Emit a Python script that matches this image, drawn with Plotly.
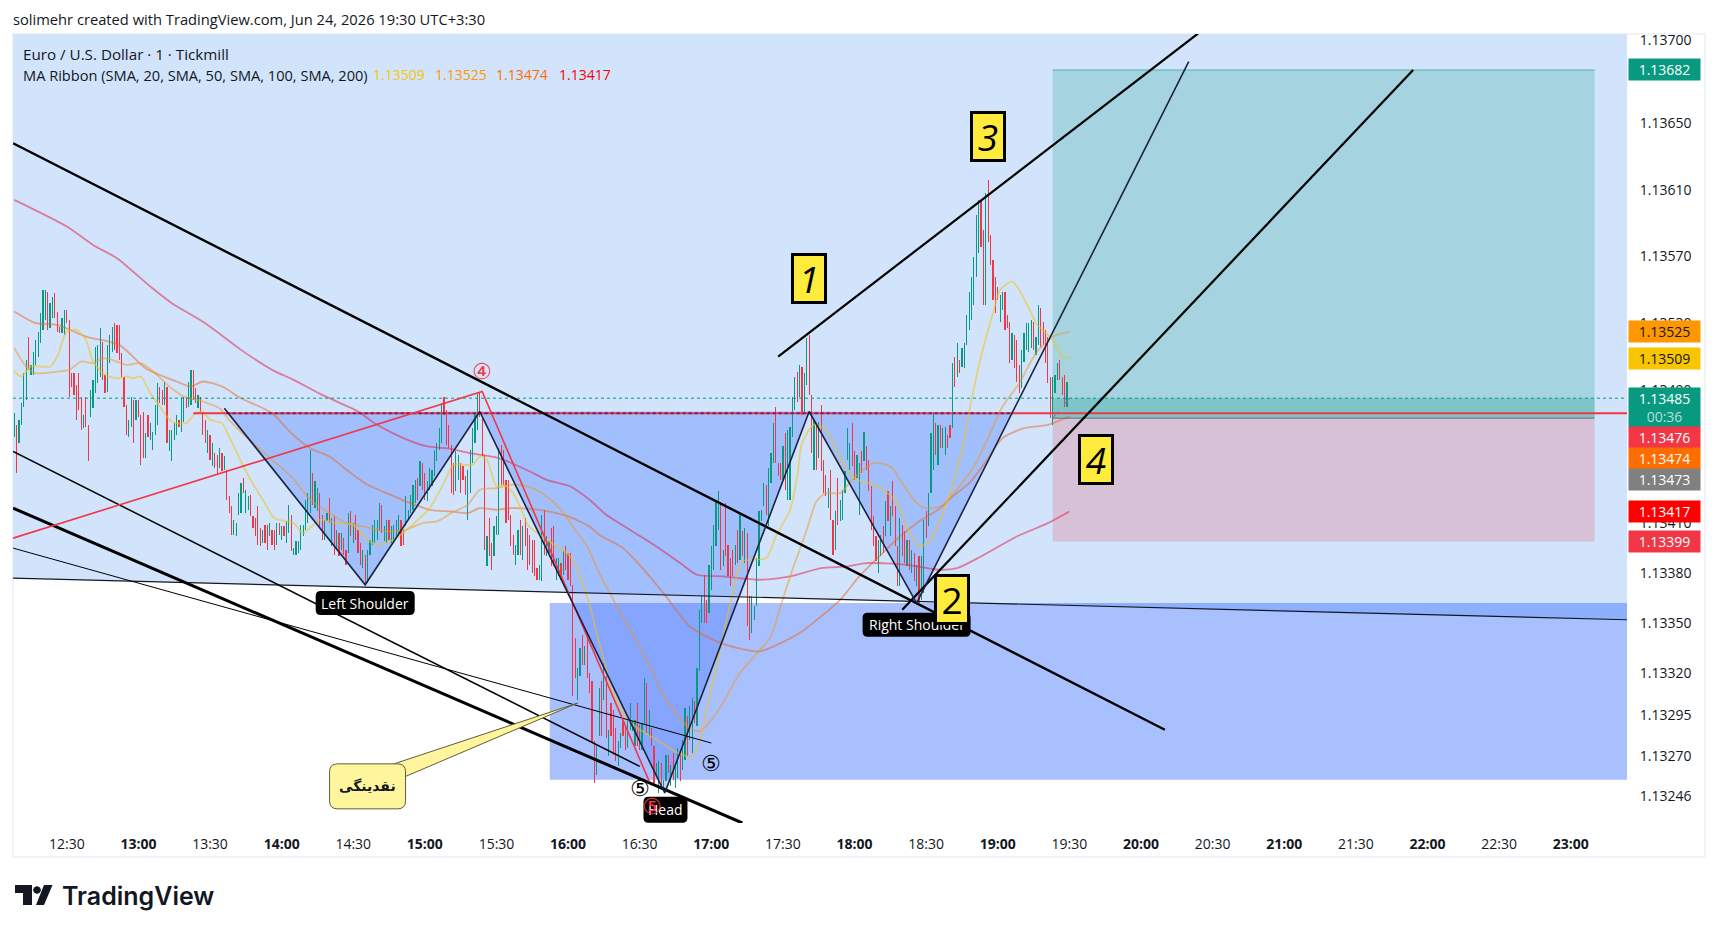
import pandas as pd
import plotly.graph_objects as go

DAY = "2026-06-24 "

# one minute bars, price in 1e-5 units, first bar is 12:08
bar_high = [
    113476,113469,113472,113482,113500,113508,113522,113505,113513,113520,
    113525,113536,113550,113550,113549,113542,113546,113548,113537,113528,
    113533,113538,113538,113532,113500,113500,113493,113500,113486,113475,
    113486,113469,113490,113496,113516,113517,113527,113519,113499,113517,
    113523,113528,113530,113529,113529,113512,113498,113481,113472,113486,
    113484,113484,113484,113475,113477,113464,113475,113470,113465,113481,
    113494,113492,113490,113495,113492,113466,113466,113470,113475,113472,
    113486,113486,113486,113495,113502,113502,113491,113487,113486,113477,
    113472,113466,113463,113458,113452,113451,113455,113452,113450,113442,
    113426,113420,113412,113410,113428,113434,113437,113430,113426,113427,
    113414,113413,113420,113407,113406,113409,113409,113410,113406,113406,
    113410,113410,113408,113408,113411,113421,113415,113395,113399,113399,
    113409,113409,113424,113428,113454,113440,113435,113431,113428,113415,
    113412,113416,113425,113413,113414,113406,113404,113404,113401,113394,
    113416,113417,113410,113415,113406,113398,113394,113391,113394,113400,
    113409,113412,113412,113422,113421,113408,113412,113412,113408,113409,
    113412,113415,113412,113406,113426,113418,113427,113433,113436,113437,
    113447,113446,113440,113435,113443,113442,113454,113458,113467,113482,
    113486,113478,113469,113457,113446,113453,113451,113446,113444,113438,
    113442,113454,113467,113476,113489,113489,113474,113451,113402,113413,
    113398,113408,113414,113455,113457,113454,113436,113436,113415,113403,
    113397,113406,113412,113408,113413,113407,113403,113400,113400,113383,
    113385,113415,113418,113402,113399,113407,113408,113389,113389,113386,
    113393,113396,113392,113392,113373,113341,113323,113335,113343,113336,
    113343,113320,113315,113279,113276,113311,113315,113326,113318,113286,
    113302,113298,113287,113279,113284,113291,113289,113292,113302,113291,
    113292,113302,113289,113290,113317,113314,113298,113287,113276,113266,
    113267,113266,113256,113271,113271,113265,113272,113265,113275,113274,
    113280,113299,113294,113300,113305,113303,113323,113358,113366,113379,
    113364,113385,113396,113409,113424,113429,113422,113394,113422,113397,
    113389,113394,113397,113406,113416,113405,113407,113404,113366,113366,
    113360,113389,113417,113418,113434,113433,113443,113452,113470,113480,
    113446,113446,113456,113464,113466,113468,113486,113498,113501,113505,
    113504,113500,113521,113523,113487,113472,113469,113471,113481,113448,
    113439,113431,113442,113412,113417,113437,113424,113430,113441,113467,
    113458,113470,113453,113451,113446,113453,113465,113456,113448,113432,
    113414,113402,113400,113403,113408,113423,113429,113420,113435,113420,
    113396,113413,113409,113405,113400,113400,113394,113392,113385,113390,
    113390,113412,113417,113428,113464,113477,113470,113469,113469,113467,
    113468,113463,113469,113506,113510,113518,113508,113515,113518,113535,
    113549,113558,113570,113595,113604,113604,113586,113608,113616,113583,
    113568,113558,113552,113547,113549,113549,113535,113531,113524,113523,
    113520,113505,113514,113524,113530,113530,113532,113531,113522,113541,
    113539,113531,113526,113522,113498,113498,113499,113506,113508,113498,
    113499,113495,
]
bar_low = [
    113462,113440,113458,113469,113480,113484,113502,113499,113499,113505,
    113510,113518,113526,113532,113526,113527,113533,113533,113525,113524,
    113524,113523,113530,113486,113492,113487,113472,113478,113466,113467,
    113468,113447,113474,113479,113488,113494,113498,113496,113488,113489,
    113506,113513,113514,113512,113508,113498,113480,113463,113462,113468,
    113458,113472,113474,113445,113449,113449,113462,113460,113454,113463,
    113469,113482,113481,113481,113458,113453,113447,113460,113463,113468,
    113465,113471,113479,113480,113481,113484,113482,113479,113477,113463,
    113458,113452,113448,113444,113443,113440,113443,113441,113442,113424,
    113416,113403,113403,113402,113415,113416,113428,113416,113418,113414,
    113407,113402,113397,113396,113398,113398,113394,113402,113397,113394,
    113397,113403,113400,113402,113398,113404,113393,113391,113391,113392,
    113394,113402,113406,113410,113416,113421,113419,113417,113408,113400,
    113400,113411,113410,113396,113391,113394,113390,113394,113391,113385,
    113392,113402,113398,113400,113392,113385,113383,113373,113374,113391,
    113397,113398,113400,113405,113404,113399,113398,113400,113398,113399,
    113402,113402,113396,113397,113408,113412,113416,113418,113422,113424,
    113432,113430,113424,113423,113430,113432,113438,113447,113454,113458,
    113475,113457,113455,113428,113427,113429,113436,113428,113436,113427,
    113412,113428,113446,113458,113466,113474,113450,113394,113384,113390,
    113382,113390,113403,113403,113433,113433,113410,113412,113396,113391,
    113385,113391,113391,113388,113396,113382,113385,113380,113378,113376,
    113376,113375,113391,113390,113392,113384,113384,113376,113378,113376,
    113379,113382,113376,113372,113306,113317,113304,113318,113325,113325,
    113317,113308,113278,113254,113259,113282,113282,113304,113281,113270,
    113282,113271,113267,113264,113275,113282,113274,113275,113286,113285,
    113276,113276,113274,113274,113289,113284,113282,113276,113254,113258,
    113248,113250,113249,113255,113260,113252,113256,113251,113257,113255,
    113262,113268,113270,113280,113272,113290,113288,113321,113350,113350,
    113350,113356,113370,113382,113396,113406,113382,113384,113390,113378,
    113372,113378,113385,113386,113388,113390,113386,113348,113340,113344,
    113352,113360,113384,113411,113420,113415,113408,113434,113446,113446,
    113438,113436,113436,113430,113424,113424,113462,113478,113483,113486,
    113475,113477,113493,113487,113452,113442,113442,113449,113441,113428,
    113426,113419,113412,113391,113394,113409,113411,113412,113428,113448,
    113442,113444,113436,113437,113415,113440,113447,113442,113429,113406,
    113396,113387,113380,113390,113392,113402,113411,113402,113414,113396,
    113372,113372,113390,113386,113384,113382,113380,113375,113372,113362,
    113364,113368,113401,113408,113428,113442,113451,113445,113455,113455,
    113451,113455,113461,113467,113492,113498,113500,113504,113503,113517,
    113526,113532,113541,113558,113572,113576,113541,113541,113579,113565,
    113544,113536,113544,113531,113538,113526,113527,113506,113508,113503,
    113495,113488,113491,113507,113514,113513,113515,113514,113511,113517,
    113516,113517,113506,113494,113473,113469,113488,113496,113496,113487,
    113480,113480,
]
# u = green bar, d = red bar
bar_dir = (
    "uduuuuduuu" "uuuuduuddd" "uudddddddu" "dduuuuuddu" "uudddddduu"
    "duddduduuu" "udduduuuud" "uuduuddudd" "dududdudud" "dduuuuduud"
    "ddddudd" "udd" "ududuuduuu" "uuuuuduudd" "uududududd" "ududddu" "duu"
    "uuuuduuduu" "uudduuuuud" "udduuuuuuu" "ddddduuddd" "uuuuudddud"
    "duuudddddd" "uududddddd" "uuduudduud" "uddddduudu" "dddduududu"
    "ddduudduuu" "udduududdu" "uduududuud" "uuduuduuud" "duuuuududd"
    "ddudududdu" "uuuuuduuud" "dduduuuudu" "duuddududd" "dudduduuuu"
    "udduududdd" "dduudududd" "duddududud" "uuduuududu" "uddududuuu"
    "uuuuuddudd" "ddduuddd" "ud" "dduuuuuduu" "ddddduuudd" "du"
)

# ma lines, knots
sma20_time = ["12:08","12:11","12:15","12:23","12:26","12:30","12:34","12:38","12:41","12:46","12:51","12:55","12:58","13:01","13:05","13:09","13:13","13:16","13:20","13:24","13:27","13:30","13:35","13:38","13:44","13:47","13:53","13:57","14:05","14:09","14:16","14:23","14:30","14:36","14:40","14:47","14:54","15:02","15:08","15:12","15:20","15:23","15:26","15:30","15:33","15:37","15:41","15:43","15:51","16:01","16:08","16:12","16:19","16:25","16:29","16:37","16:46","16:52","16:55","16:59","17:04","17:09","17:13","17:23","17:27","17:33","17:36","17:38","17:43","17:48","17:53","17:57","18:01","18:06","18:12","18:18","18:22","18:27","18:32","18:37","18:41","18:45","18:49","18:53","18:58","19:01","19:06","19:09","19:14","19:16","19:23","19:27","19:30"]
sma20_price = [113501,113498,113504,113504,113510,113525,113526,113520,113507,113499,113497,113498,113497,113498,113488,113480,113472,113470,113470,113476,113477,113472,113470,113462,113444,113436,113422,113413,113410,113404,113412,113410,113409,113400,113397,113400,113408,113419,113434,113445,113445,113450,113448,113432,113433,113428,113416,113409,113400,113390,113366,113344,113308,113292,113287,113280,113272,113270,113278,113304,113336,113368,113387,113389,113402,113418,113438,113458,113469,113466,113452,113442,113436,113434,113430,113422,113408,113396,113400,113416,113432,113454,113484,113510,113536,113550,113555,113550,113536,113530,113520,113510,113509]
sma50_time = ["12:08","12:13","12:17","12:26","12:31","12:36","12:41","12:45","12:49","12:55","13:01","13:07","13:13","13:19","13:27","13:34","13:38","13:45","13:56","14:04","14:12","14:20","14:27","14:34","14:45","14:52","14:59","15:05","15:11","15:18","15:23","15:30","15:36","15:43","15:50","15:57","16:02","16:08","16:13","16:19","16:25","16:33","16:41","16:50","16:55","16:59","17:04","17:12","17:18","17:25","17:29","17:34","17:40","17:44","17:48","17:54","17:59","18:08","18:15","18:20","18:26","18:30","18:36","18:41","18:50","18:55","19:02","19:09","19:16","19:23","19:30"]
sma50_price = [113515,113504,113500,113501,113502,113507,113506,113509,113508,113505,113506,113500,113492,113486,113483,113479,113472,113462,113448,113438,113424,113416,113410,113408,113405,113406,113410,113411,113416,113421,113430,113431,113433,113432,113427,113418,113408,113396,113380,113364,113348,113328,113304,113288,113285,113290,113300,113320,113330,113342,113360,113382,113406,113423,113428,113428,113436,113446,113444,113434,113422,113419,113420,113427,113444,113458,113480,113494,113512,113522,113525]
sma100_time = ["12:08","12:17","12:26","12:38","12:52","13:03","13:16","13:22","13:27","13:35","13:43","13:56","14:04","14:12","14:20","14:29","14:36","14:44","14:54","15:02","15:11","15:18","15:23","15:30","15:36","15:48","16:00","16:09","16:13","16:23","16:33","16:41","16:51","17:04","17:20","17:29","17:37","17:46","17:54","18:02","18:11","18:19","18:27","18:36","18:41","18:48","18:55","19:02","19:11","19:21","19:30"]
sma100_price = [113537,113530,113529,113522,113517,113503,113495,113492,113495,113492,113485,113476,113464,113455,113450,113440,113433,113428,113422,113418,113417,113416,113419,113418,113419,113418,113414,113408,113403,113395,113380,113366,113348,113338,113333,113338,113344,113354,113364,113378,113391,113402,113411,113419,113426,113434,113447,113461,113467,113469,113474]
sma200_time = ["12:08","12:30","12:41","12:51","13:05","13:14","13:28","13:43","13:56","14:05","14:17","14:32","14:40","14:51","15:01","15:09","15:19","15:31","15:44","15:51","16:01","16:09","16:16","16:27","16:37","16:47","16:54","17:05","17:20","17:33","17:46","17:57","18:05","18:22","18:35","18:43","18:53","19:08","19:21","19:30"]
sma200_price = [113604,113588,113577,113569,113552,113542,113530,113514,113502,113496,113487,113477,113469,113461,113456,113455,113452,113449,113441,113436,113432,113424,113415,113405,113396,113386,113379,113378,113376,113378,113383,113384,113386,113385,113382,113383,113390,113402,113410,113417]

# drawings, (times, prices)
trend_a = (["12:07:30","20:10"], [113638,113286])
trend_b = (["17:28","20:24"], [113510,113704])
trend_c = (["18:20","21:54"], [113358,113682])
trend_d = (["12:07:30","17:13"], [113419,113230])
trend_e = (["12:07:30","16:30"], [113453,113264])
trend_f = (["12:07:30","17:00"], [113395,113278])
base_line = (["12:07:30","23:23:36"], [113377,113352])
red_zigzag = (["12:07:30","15:24","16:34"], [113401,113489,113255])
pattern = (["13:36","14:35","15:23","16:40:30","17:41","18:26","20:20"], [113479,113373,113477,113248,113477,113362,113687])
neck_price = 113476
neck_times = ["13:37","19:06"]
pattern_fills = [
    (["13:37","14:35","15:23"], [113476,113373,113477]),
    (["15:23","16:40:30","17:41"], [113477,113248,113477]),
    (["17:41","18:26","19:06"], [113477,113362,113476]),
]
red_level_start = "13:23"
last_price = 113485
liquidity_zone = ("15:52:20", 113362, 113256)
position_times = ("19:23", "23:10")
target_price, entry_price, stop_price = 113682, 113473, 113399

tick_prices = [113700,113650,113610,113570,113530,113490,113410,113380,113350,113320,113295,113270,113246]
time_ticks = ["12:30","13:00","13:30","14:00","14:30","15:00","15:30","16:00","16:30","17:00","17:30","18:00","18:30","19:00","19:30","20:00","20:30","21:00","21:30","22:00","22:30","23:00"]

tag_prices = [113682,113525,113509,113485,113476,113474,113473,113417,113399]
tag_colors = ["#089981","#FF9800","#F7C600","#089981","#F23645","#FF6D00","#808080","#FF0000","#F23645"]
tag_text_colors = ["white","#131722","#131722","white","white","white","white","white","white"]
tag_shifts = [0,0,0,-9.5,-24.5,-42,-61,0,0]

legend_values = ["1.13509","1.13525","1.13474","1.13417"]
legend_colors = ["#F7C600","#FF9800","#FF6D00","#FF0000"]
legend_x = [0.2233,0.2613,0.2992,0.3380]

FONT = "Open Sans"
INK = "#131722"
X_START, X_END = "12:07:28", "23:23:36"
Y_BOTTOM, Y_TOP = 113230, 113703.6


def at(hm):
    return DAY + hm


def price(values):
    return [v / 1e5 for v in values]


def path_of(times, prices):
    pts = [f"{at(t).replace(' ', '_')},{p / 1e5}" for t, p in zip(times, prices)]
    return "M" + " L".join(pts) + " Z"


def rounded(w, h, r):
    x, y = w / 2, h / 2
    return (f"M{-x + r},{-y} L{x - r},{-y} Q{x},{-y} {x},{-y + r} L{x},{y - r} Q{x},{y} {x - r},{y} "
            f"L{-x + r},{y} Q{-x},{y} {-x},{y - r} L{-x},{-y + r} Q{-x},{-y} {-x + r},{-y} Z")


def line(times, prices, color=INK, width=2, dash="solid"):
    return go.Scatter(x=[at(t) for t in times], y=price(prices), mode="lines",
                      line=dict(color=color, width=width, dash=dash), hoverinfo="skip", showlegend=False)


def ma_line(times, prices, color):
    return go.Scatter(x=[at(t) for t in times], y=price(prices), mode="lines",
                      line=dict(color=color, width=1.8, shape="spline", smoothing=0.7),
                      hoverinfo="skip", showlegend=False)


bar_time = pd.date_range(DAY + "12:08", periods=len(bar_high), freq="min")
bar_open = [l if d == "u" else h for h, l, d in zip(bar_high, bar_low, bar_dir)]
bar_close = [h if d == "u" else l for h, l, d in zip(bar_high, bar_low, bar_dir)]

fig = go.Figure()
fig.add_trace(go.Ohlc(x=bar_time, open=price(bar_open), high=price(bar_high), low=price(bar_low), close=price(bar_close),
                      tickwidth=0, increasing_line_color="#089981", decreasing_line_color="#F23645",
                      line_width=1.2, hoverinfo="skip", showlegend=False))

fig.add_trace(ma_line(sma200_time, sma200_price, "rgba(225,40,80,0.55)"))
fig.add_trace(ma_line(sma100_time, sma100_price, "rgba(235,100,30,0.5)"))
fig.add_trace(ma_line(sma50_time, sma50_price, "rgba(240,150,30,0.5)"))
fig.add_trace(ma_line(sma20_time, sma20_price, "rgba(240,195,20,0.55)"))

fig.add_trace(line([X_START, X_END], [last_price, last_price], "#089981", 1, "dot"))
fig.add_trace(line([red_level_start, X_END], [neck_price, neck_price], "#F23645", 2))
fig.add_trace(line(neck_times, [neck_price, neck_price], "rgba(40,30,110,0.7)", 2, "dot"))
fig.add_trace(line(position_times, [entry_price, entry_price], "#787B86", 1.2))
fig.add_trace(line(position_times, [target_price, target_price], "rgba(8,153,129,0.6)", 1))
fig.add_trace(line(["19:23", "19:30"], [entry_price, last_price], "#787B86", 1, "dash"))

fig.add_trace(line(*base_line, INK, 1.2))
fig.add_trace(line(*trend_a, "black", 2.4))
fig.add_trace(line(*trend_b, "black", 2.2))
fig.add_trace(line(*trend_c, "black", 2.2))
fig.add_trace(line(*trend_d, "black", 3))
fig.add_trace(line(*trend_e, "black", 1.5))
fig.add_trace(line(*trend_f, "black", 1))
fig.add_trace(line(*red_zigzag, "#F23645", 1.6))
fig.add_trace(line(*pattern, "#1a2340", 1.6))

# callout wedge
fig.add_trace(go.Scatter(x=[at("14:46"), at("16:04"), at("14:52"), at("14:46")], y=price([113265, 113302, 113258, 113265]),
                         mode="lines", fill="toself", fillcolor="#FFF59D", line=dict(color="#5d5d3a", width=1),
                         hoverinfo="skip", showlegend=False))

shapes = []
# light blue area above the base line, drawn under the bars
shapes.append(dict(type="path", layer="below", line_width=0, fillcolor="#D1E4FC", xref="x", yref="y",
                   path=path_of([X_START, X_END, X_END, X_START], [Y_TOP, Y_TOP, base_line[1][1], base_line[1][0]])))
shapes.append(dict(type="rect", layer="below", line_width=0, fillcolor="rgba(41,98,255,0.4)",
                   x0=at(liquidity_zone[0]), x1=at(X_END), y0=liquidity_zone[1] / 1e5, y1=liquidity_zone[2] / 1e5))
shapes.append(dict(type="rect", layer="below", line_width=0, fillcolor="rgba(8,153,129,0.22)",
                   x0=at(position_times[0]), x1=at(position_times[1]), y0=entry_price / 1e5, y1=target_price / 1e5))
shapes.append(dict(type="rect", layer="below", line_width=0, fillcolor="rgba(242,54,69,0.2)",
                   x0=at(position_times[0]), x1=at(position_times[1]), y0=stop_price / 1e5, y1=entry_price / 1e5))
shapes.append(dict(type="rect", layer="below", line_width=0, fillcolor="rgba(8,153,129,0.25)",
                   x0=at(position_times[0]), x1=at(position_times[1]), y0=entry_price / 1e5, y1=last_price / 1e5))
for t, p in pattern_fills:
    shapes.append(dict(type="path", layer="below", line_width=0, fillcolor="rgba(41,98,255,0.28)", xref="x", yref="y",
                       path=path_of(t, p)))

# outer frame of the chart
shapes.append(dict(type="rect", xref="paper", yref="paper", layer="below", x0=0, x1=1.0483, y0=-0.043, y1=1,
                   line=dict(color="#F0F3FA", width=2), fillcolor="rgba(0,0,0,0)"))

# rounded labels, size in pixels around a chart position
labels = [
    ("Left Shoulder", "14:35", 113362, 99, 24),
    ("Right Shoulder", "18:26", 113349, 108, 24),
    ("Head", "16:40:48", 113238, 44, 26),
]
for text, t, p, w, h in labels:
    shapes.append(dict(type="path", xref="x", yref="y", xsizemode="pixel", ysizemode="pixel",
                       xanchor=at(t), yanchor=p / 1e5, path=rounded(w, h, 5), fillcolor="black", line_width=0))
shapes.append(dict(type="path", xref="x", yref="y", xsizemode="pixel", ysizemode="pixel",
                   xanchor=at("14:36"), yanchor=1.13252, path=rounded(76, 45, 8),
                   fillcolor="#FFF59D", line=dict(color="#5d5d3a", width=1)))

# tradingview mark under the chart
logo = ("M2,-62 L19,-62 L19,-82 L10,-82 L10,-70 L2,-70 Z "
        "M24,-63 L27,-64.5 L28,-67 L27,-69.5 L24,-71 L21,-69.5 L20,-67 L21,-64.5 Z "
        "M31,-62 L39.5,-62 L31,-82 L23,-82 Z")
shapes.append(dict(type="path", xref="paper", yref="paper", xsizemode="pixel", ysizemode="pixel",
                   xanchor=0, yanchor=0, path=logo, fillcolor=INK, line_width=0))

ann = []
ann.append(dict(xref="paper", yref="paper", x=0, y=1.0196, xanchor="left", yanchor="middle", showarrow=False, xshift=-2,
                text="solimehr created with TradingView.com, Jun 24, 2026 19:30 UTC+3:30", font=dict(size=14.7, color=INK)))
ann.append(dict(xref="paper", yref="paper", x=0.0062, y=0.975, xanchor="left", yanchor="middle", showarrow=False, xshift=-2,
                text="Euro / U.S. Dollar · 1 · Tickmill", font=dict(size=15.2, color=INK)))
ann.append(dict(xref="paper", yref="paper", x=0.0062, y=0.9484, xanchor="left", yanchor="middle", showarrow=False, xshift=-2,
                text="MA Ribbon (SMA, 20, SMA, 50, SMA, 100, SMA, 200)", font=dict(size=14.6, color=INK)))
for text, col, xp in zip(legend_values, legend_colors, legend_x):
    ann.append(dict(xref="paper", yref="paper", x=xp, y=0.9484, xanchor="left", yanchor="middle", showarrow=False, xshift=-2,
                    text=text, font=dict(size=14, color=col)))
ann.append(dict(xref="paper", yref="paper", x=0.029, y=-0.0925, xanchor="left", yanchor="middle", showarrow=False,
                text="TradingView", font=dict(size=25, color=INK, family="Inter", weight=600)))

for p, bg, fg, dy in zip(tag_prices, tag_colors, tag_text_colors, tag_shifts):
    text = f"{p / 1e5:.5f}"
    h = 21
    if p == last_price:
        text += "<br><span style='color:rgba(255,255,255,0.7)'>00:36</span>"
        h = 39
    ann.append(dict(xref="paper", yref="y", x=1.0006, y=p / 1e5, xanchor="left", yanchor="middle", showarrow=False,
                    yshift=dy, text=text, bgcolor=bg, width=71, height=h, borderpad=0, align="center",
                    font=dict(size=14, color=fg)))

for text, t, p, w, h in labels:
    ann.append(dict(x=at(t), y=p / 1e5, showarrow=False, text=text, font=dict(size=14, color="white")))
ann.append(dict(x=at("14:36"), y=1.13252, showarrow=False, text="<b>نقدینگی</b>",
                font=dict(size=14, color=INK, family="DejaVu Sans")))

circled = [("④", "15:24", 113501, "#F23645"), ("⑤", "16:30", 113251, "black"), ("⑤", "17:00", 113266, "black"), ("⑤", "16:35", 113240, "#F23645")]
for text, t, p, col in circled:
    ann.append(dict(x=at(t), y=p / 1e5, showarrow=False, text=text, font=dict(size=22, color=col, family="DejaVu Sans")))

boxes = [("1", "17:41", 113557), ("2", "18:41", 113364), ("3", "18:56", 113642), ("4", "19:41", 113448)]
for text, t, p in boxes:
    label = text if text == "2" else f"<i>{text}</i>"
    ann.append(dict(x=at(t), y=p / 1e5, showarrow=False, text=label, bgcolor="#FFEB3B", bordercolor="black", borderwidth=3,
                    borderpad=0, width=30, height=45, font=dict(size=37, color="black")))

fig.update_layout(
    width=1717, height=933,
    margin=dict(l=13, r=90, t=34, b=110),
    paper_bgcolor="white", plot_bgcolor="white",
    font=dict(family=FONT, size=14, color=INK),
    showlegend=False,
    shapes=shapes, annotations=ann,
    xaxis=dict(type="date", range=[at(X_START), at(X_END)], rangeslider_visible=False, showgrid=False, zeroline=False,
               tickmode="array", tickvals=[at(t) for t in time_ticks],
               ticktext=[f"<b>{t}</b>" if t.endswith(":00") else t for t in time_ticks],
               ticks="outside", ticklen=8, tickcolor="rgba(0,0,0,0)", tickfont=dict(size=14, color=INK)),
    yaxis=dict(side="right", range=[Y_BOTTOM / 1e5, Y_TOP / 1e5], showgrid=False, zeroline=False,
               tickmode="array", tickvals=price(tick_prices), ticktext=[f"{p / 1e5:.5f}" for p in tick_prices],
               ticks="outside", ticklen=9, tickcolor="rgba(0,0,0,0)", tickfont=dict(size=14, color=INK)),
)

page_js = ("document.body.style.margin='0';document.body.style.overflow='hidden';"
           "var s=document.createElement('style');s.textContent='.ohlc path{shape-rendering:crispEdges}';"
           "document.head.appendChild(s);")
fig.write_html("out.html", config={"displayModeBar": False}, post_script=page_js)
